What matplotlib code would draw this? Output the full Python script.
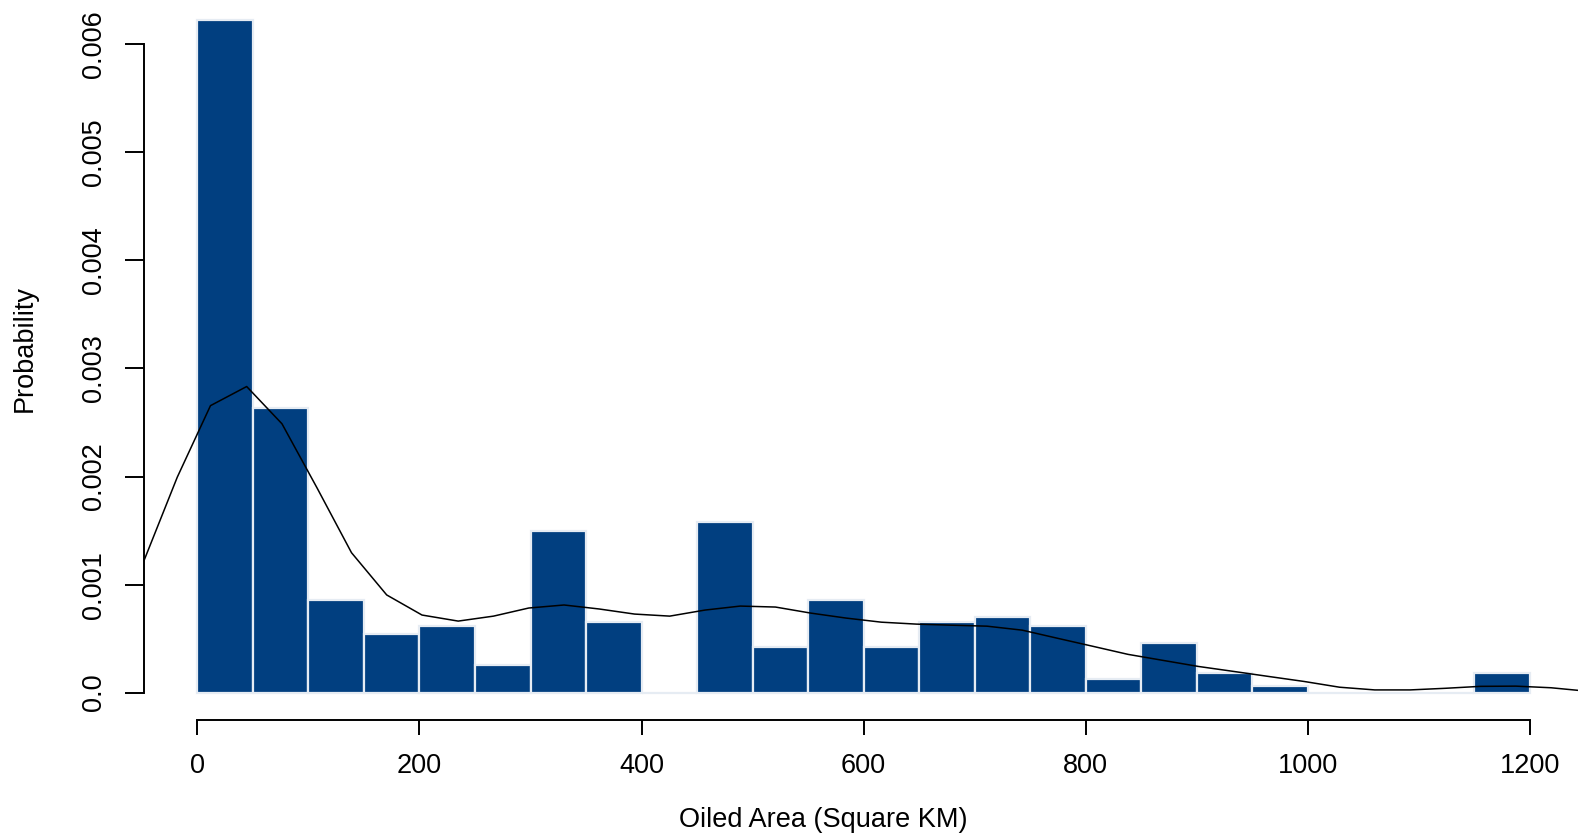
import numpy as np
import matplotlib
matplotlib.use('Agg')
import matplotlib.pyplot as plt

plt.rcParams['font.family'] = ['Liberation Sans', 'DejaVu Sans']

# histogram bins (square km) and heights (density)
bin_edges = list(range(0, 1250, 50))
densidade = [0.00623, 0.00263, 0.00086, 0.00054, 0.000615, 0.00026, 0.00150, 0.00065,
             0.0, 0.001575, 0.00042, 0.00086, 0.00042, 0.00065, 0.00070, 0.000615,
             0.00013, 0.000457, 0.000177, 0.000065, 0.0, 0.0, 0.0, 0.000177]

# kernel density curve
kde_x = [-48.1, -18.1, 11.8, 44.4, 76.2, 107.9, 138.8, 170.5, 202.3, 234.9, 266.7,
         298.4, 330.2, 361.9, 393.7, 425.4, 457.1, 488.9, 520.6, 552.4, 584.1, 615.9,
         647.6, 679.4, 711.1, 742.9, 774.6, 806.3, 838.1, 869.8, 901.6, 933.3, 965.1,
         996.8, 1028.6, 1060.3, 1092.1, 1123.8, 1155.6, 1187.3, 1219.0, 1244.4]
kde_y = [0.001221, 0.001994, 0.002656, 0.002833, 0.002488, 0.001892, 0.001295, 0.000904,
         0.000718, 0.000662, 0.000708, 0.000783, 0.000811, 0.000774, 0.000727, 0.000708,
         0.000764, 0.000801, 0.000792, 0.000736, 0.000690, 0.000652, 0.000634, 0.000624,
         0.000615, 0.000578, 0.000503, 0.000429, 0.000354, 0.000298, 0.000242, 0.000196,
         0.000149, 0.000103, 0.000050, 0.000025, 0.000025, 0.000040, 0.000058, 0.000060,
         0.000045, 0.000020]

fig = plt.figure(figsize=(15.78, 8.33), dpi=100)
ax = fig.add_axes([0.0913, 0.1361, 0.912, 0.8755])

lefts = bin_edges[:-1]
ax.bar(lefts, densidade, width=50, align='edge', color='#013f80',
       edgecolor='#e6ecf3', linewidth=1.6, zorder=1)
ax.plot(kde_x, kde_y, color='black', linewidth=1.1, zorder=2)

ax.set_xlim(-48, 1248)
ax.set_ylim(-0.00025, 0.0065)

for s in ['top', 'right']:
    ax.spines[s].set_visible(False)
ax.spines['left'].set_bounds(0, 0.006)
ax.spines['bottom'].set_bounds(0, 1200)
ax.spines['left'].set_linewidth(1.4)
ax.spines['bottom'].set_linewidth(1.4)

ax.set_xticks(range(0, 1400, 200))
ax.set_yticks([0.0, 0.001, 0.002, 0.003, 0.004, 0.005, 0.006])
ax.set_yticklabels(['0.0', '0.001', '0.002', '0.003', '0.004', '0.005', '0.006'],
                   rotation=90, va='center')
ax.tick_params(axis='x', length=11, width=1.4, labelsize=19.5, pad=13)
ax.tick_params(axis='y', length=14, width=1.4, labelsize=19.5, pad=13)

fig.text(0.522, 0.0072, 'Oiled Area (Square KM)', fontsize=19.5, ha='center', va='baseline')
fig.text(0.016, 0.582, 'Probability', fontsize=19.5, rotation=90, ha='center', va='center')

fig.savefig('out.png', dpi=100)
